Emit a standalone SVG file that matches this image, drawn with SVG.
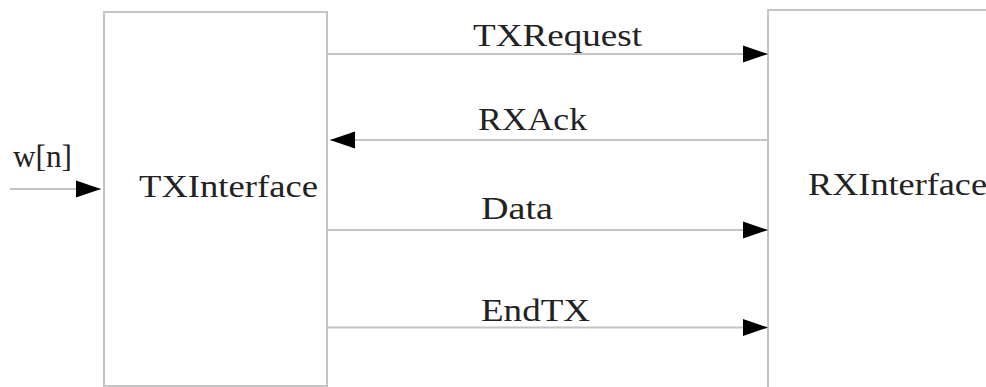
<svg xmlns="http://www.w3.org/2000/svg" width="986" height="387" viewBox="0 0 986 387">
<style>
.box{fill:#fff;stroke:#c4c4c4;stroke-width:2}
.wire{stroke:#c4c4c4;stroke-width:2;fill:none;marker-end:url(#ah)}
.lbl{font-family:"Liberation Serif","Times New Roman",serif;font-size:31px;fill:#222}
</style>
<defs>
<marker id="ah" markerUnits="userSpaceOnUse" markerWidth="26" markerHeight="18" viewBox="0 0 26 18" refX="25" refY="9" orient="auto">
<path d="M0,0.5 L25,9 L0,17.5 Z" fill="#000"/>
</marker>
</defs>
<rect width="986" height="387" fill="#fff"/>
<g id="TXInterface">
<rect class="box" x="104" y="12" width="223" height="374"/>
<text class="lbl" x="139" y="197" textLength="179" lengthAdjust="spacingAndGlyphs">TXInterface</text>
</g>
<g id="RXInterface">
<rect class="box" x="768" y="10" width="240" height="400"/>
<text class="lbl" x="808" y="195" textLength="179" lengthAdjust="spacingAndGlyphs">RXInterface</text>
</g>
<g id="connectors">
<line class="wire" x1="10" y1="189" x2="101" y2="189"/>
<text class="lbl" x="13" y="167" textLength="59" lengthAdjust="spacingAndGlyphs">w[n]</text>
<line class="wire" x1="328" y1="54" x2="768" y2="54"/>
<text class="lbl" x="473" y="46" textLength="169" lengthAdjust="spacingAndGlyphs">TXRequest</text>
<line class="wire" x1="768" y1="140" x2="330" y2="140"/>
<text class="lbl" x="478" y="130" textLength="109" lengthAdjust="spacingAndGlyphs">RXAck</text>
<line class="wire" x1="328" y1="230" x2="768" y2="230"/>
<text class="lbl" x="481" y="219" textLength="72" lengthAdjust="spacingAndGlyphs">Data</text>
<line class="wire" x1="328" y1="327.5" x2="768" y2="327.5"/>
<text class="lbl" x="481" y="321" textLength="109" lengthAdjust="spacingAndGlyphs">EndTX</text>
</g>
</svg>
